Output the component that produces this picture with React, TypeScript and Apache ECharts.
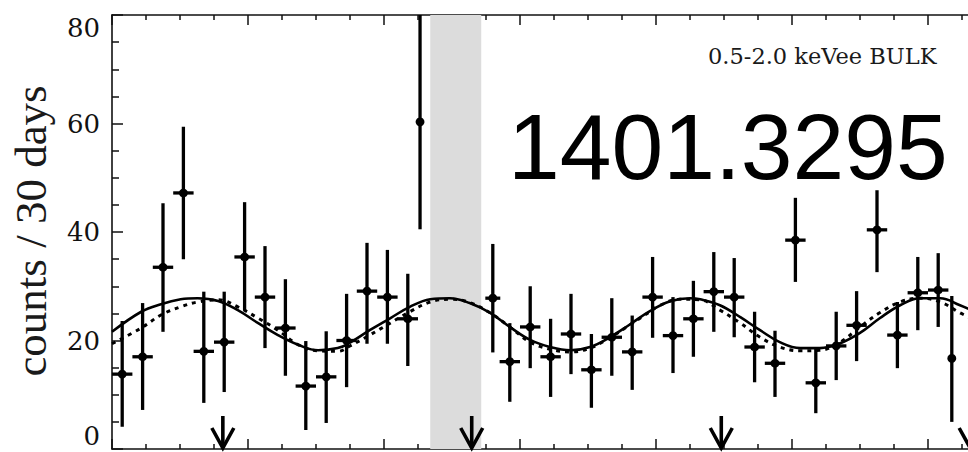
import React, { useEffect, useRef } from "react";
import * as echarts from "echarts";

// ---- data ----
// 30-day bins (bin centre, days since start of run)
const binDays = [15, 45, 75, 105, 135, 165, 195, 225, 255, 285, 315, 345, 375, 405, 435, 453, 560, 585, 615, 645, 675, 705, 735, 765, 795, 825, 855, 885, 915, 945, 975, 1005, 1035, 1065, 1095, 1125, 1155, 1185, 1215, 1235];
const counts = [13.8, 17.0, 33.5, 47.2, 18.0, 19.7, 35.4, 28.0, 22.3, 11.6, 13.3, 20.0, 29.1, 28.0, 24.0, 60.3, 27.8, 16.1, 22.5, 17.0, 21.2, 14.6, 20.6, 17.9, 28.0, 20.9, 24.0, 29.0, 28.0, 18.8, 15.8, 38.5, 12.2, 19.0, 22.8, 40.4, 21.0, 28.8, 29.3, 16.7];
const countsLow = [4.1, 7.2, 21.6, 35.0, 8.5, 10.5, 25.6, 18.6, 13.5, 3.5, 4.8, 11.4, 19.4, 19.4, 15.3, 40.5, 17.8, 8.7, 14.9, 9.6, 13.8, 7.6, 13.5, 10.9, 20.5, 14.0, 17.0, 21.6, 20.6, 12.3, 9.6, 30.8, 6.6, 12.7, 16.2, 32.6, 14.9, 21.9, 22.5, 5.0];
const countsHigh = [23.6, 26.9, 45.3, 59.4, 29.0, 29.0, 45.5, 37.4, 31.3, 19.9, 21.7, 28.6, 38.0, 36.7, 32.3, 95.0, 37.8, 23.2, 30.0, 24.0, 28.6, 21.2, 27.8, 24.6, 35.4, 28.0, 31.0, 36.3, 35.2, 25.3, 21.8, 46.3, 18.5, 25.3, 29.1, 47.7, 27.1, 35.4, 36.1, 28.2];
const binHalfWidth = [15, 15, 15, 15, 15, 15, 15, 15, 15, 15, 15, 15, 15, 15, 15, 0, 11, 15, 15, 15, 15, 15, 15, 15, 15, 15, 15, 15, 15, 15, 15, 15, 15, 15, 15, 15, 15, 15, 15, 0];

// modulation fit (solid) and alternative fit (dotted)
const fitSolidDays = [0, 43, 72, 101, 126, 156, 185, 215, 244, 274, 303, 332, 350, 379, 409, 438, 468, 497, 526, 556, 585, 615, 644, 674, 703, 732, 762, 791, 820, 850, 865, 894, 924, 953, 982, 1012, 1041, 1071, 1100, 1129, 1159, 1188, 1218, 1247, 1262];
const fitSolidValues = [21.6, 25.3, 26.7, 27.6, 27.8, 27.3, 25.6, 23.2, 21.0, 19.2, 18.2, 18.6, 19.6, 21.9, 24.1, 26.2, 27.6, 27.8, 26.9, 25.1, 22.5, 20.1, 18.8, 18.2, 18.8, 20.6, 23.0, 25.4, 27.2, 27.8, 27.6, 26.5, 24.3, 21.9, 19.7, 18.6, 18.6, 19.5, 21.4, 24.1, 26.5, 27.8, 27.8, 26.5, 25.7];
const fitDottedDays = [0, 43, 72, 101, 126, 156, 185, 215, 244, 274, 303, 332, 350, 379, 409, 438, 468, 497, 526, 556, 585, 615, 644, 674, 703, 732, 762, 791, 806, 835, 865, 894, 924, 953, 982, 1012, 1041, 1071, 1100, 1129, 1159, 1188, 1218, 1247, 1262];
const fitDottedValues = [19.4, 22.3, 24.7, 26.2, 27.1, 27.5, 26.2, 24.1, 21.9, 19.2, 18.1, 18.0, 19.0, 21.0, 23.2, 25.3, 27.1, 27.6, 27.0, 25.1, 22.5, 19.7, 18.4, 17.9, 18.6, 20.5, 22.9, 25.3, 26.5, 27.6, 27.5, 25.6, 23.2, 20.6, 18.8, 18.1, 18.2, 19.7, 22.5, 25.1, 27.1, 27.8, 27.1, 25.1, 24.2];

// data gap (grey band) and yearly markers (arrows)
const gapDays = [468, 543];
const arrowDays = [163, 529, 896, 1262];

const yTitle = "counts / 30 days";
const panelLabel = "0.5-2.0 keVee BULK";
const overlayText = "1401.3295";

export default function App() {
  const ref = useRef<HTMLDivElement>(null);

  useEffect(() => {
    if (!ref.current) return;
    const chart = echarts.init(ref.current, null, { renderer: "svg" });
    const ink = "#111";

    const errData = binDays.map((d, i) => [d, counts[i], countsLow[i], countsHigh[i], binHalfWidth[i]]);

    const xAxisBase = {
      type: "value",
      min: 0,
      max: 1400,
      interval: 200,
      axisLine: { show: true, onZero: false, lineStyle: { color: ink, width: 1.6 } },
      axisTick: { show: true, inside: true, length: 10, lineStyle: { color: ink, width: 1.5 } },
      minorTick: { show: true, splitNumber: 4, length: 5, lineStyle: { color: ink, width: 1.5 } },
      axisLabel: { show: false },
      splitLine: { show: false },
    };

    const option: any = {
      animation: false,
      backgroundColor: "#ffffff",
      grid: { left: 112, top: 15, right: 0, bottom: 3, containLabel: false },
      xAxis: [
        { ...xAxisBase, position: "bottom" },
        { ...xAxisBase, position: "top" },
      ],
      yAxis: {
        type: "value",
        min: 0,
        max: 80,
        interval: 20,
        axisLine: { show: true, lineStyle: { color: ink, width: 1.6 } },
        axisTick: { show: true, inside: true, length: 11, lineStyle: { color: ink, width: 1.5 } },
        minorTick: { show: true, splitNumber: 4, length: 7, lineStyle: { color: ink, width: 1.5 } },
        axisLabel: {
          fontFamily: "DejaVu Serif",
          fontSize: 26,
          color: ink,
          margin: 12,
          verticalAlignMaxLabel: "top",
          verticalAlignMinLabel: "bottom",
        },
        splitLine: { show: false },
      },
      series: [
        {
          type: "line",
          data: [[0, -10]],
          symbol: "none",
          lineStyle: { opacity: 0 },
          silent: true,
          z: 1,
          markArea: {
            silent: true,
            itemStyle: { color: "#dcdcdc" },
            data: [[{ xAxis: gapDays[0] }, { xAxis: gapDays[1] }]],
          },
        },
        {
          type: "line",
          data: fitSolidDays.map((d, i) => [d, fitSolidValues[i]]),
          smooth: 0.4,
          symbol: "none",
          lineStyle: { color: "#000", width: 2.6 },
          silent: true,
          z: 3,
        },
        {
          type: "line",
          data: fitDottedDays.map((d, i) => [d, fitDottedValues[i]]),
          smooth: 0.4,
          symbol: "none",
          lineStyle: { color: "#000", width: 3, type: [4, 5] },
          silent: true,
          z: 3,
        },
        {
          type: "custom",
          data: errData,
          encode: { x: 0, y: 1 },
          clip: true,
          z: 4,
          renderItem: (params: any, api: any) => {
            const d = api.value(0);
            const v = api.value(1);
            const lo = api.value(2);
            const hi = Math.min(api.value(3), 80);
            const hw = api.value(4);
            const c = api.coord([d, v]);
            const top = api.coord([d, hi]);
            const bot = api.coord([d, lo]);
            const style = { stroke: "#000", lineWidth: 3.3 };
            const children: any[] = [
              { type: "line", shape: { x1: c[0], y1: top[1], x2: c[0], y2: bot[1] }, style },
            ];
            if (hw > 0) {
              const l = api.coord([d - hw, v]);
              const r = api.coord([d + hw, v]);
              children.push({ type: "line", shape: { x1: l[0], y1: c[1], x2: r[0], y2: c[1] }, style });
            }
            children.push({ type: "circle", shape: { cx: c[0], cy: c[1], r: 4.4 }, style: { fill: "#000" } });
            return { type: "group", children };
          },
        },
        {
          type: "custom",
          data: arrowDays.map((d) => [d, 0]),
          encode: { x: 0, y: 1 },
          z: 5,
          renderItem: (params: any, api: any) => {
            const p = api.coord([api.value(0), 0]);
            const x = p[0];
            const yb = p[1] - 1;
            const style = { stroke: "#000", lineWidth: 3.6, fill: "none" };
            return {
              type: "group",
              children: [
                { type: "line", shape: { x1: x, y1: yb - 32, x2: x, y2: yb }, style },
                { type: "polyline", shape: { points: [[x - 11, yb - 20], [x, yb], [x + 11, yb - 20]] }, style },
              ],
            };
          },
        },
      ],
      graphic: [
        {
          type: "text",
          x: 31,
          y: 231,
          rotation: Math.PI / 2,
          style: {
            text: yTitle,
            fontFamily: "Liberation Serif",
            fontSize: 45,
            fill: "#1a1a1a",
            align: "center",
            verticalAlign: "middle",
          },
        },
        {
          type: "text",
          x: 708,
          y: 56,
          style: {
            text: panelLabel,
            fontFamily: "DejaVu Serif",
            fontSize: 22.5,
            fill: "#1a1a1a",
            align: "left",
            verticalAlign: "middle",
          },
        },
        {
          type: "text",
          x: 508,
          y: 147,
          z: 10,
          style: {
            text: overlayText,
            fontFamily: "Liberation Sans",
            fontSize: 93,
            fill: "#000",
            align: "left",
            verticalAlign: "middle",
          },
        },
      ],
    };

    chart.setOption(option);
    return () => {
      chart.dispose();
    };
  }, []);

  // The plotted window runs past the photographed page on the right (as in the cropped original),
  // so the chart is wider than the visible frame, which clips it.
  return (
    <div
      style={{
        position: "absolute",
        left: 0,
        top: 0,
        width: 968,
        height: 452,
        overflow: "hidden",
        background: "#fff",
      }}
    >
      <div ref={ref} style={{ width: 1064, height: 452 }} />
    </div>
  );
}
